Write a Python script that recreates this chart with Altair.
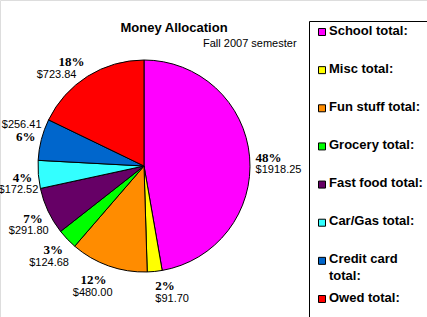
import altair as alt
import pandas as pd

categories = ["School", "Misc", "Fun stuff", "Grocery", "Fast food", "Car/Gas", "Credit card", "Owed"]
amounts = [1918.25, 91.70, 480.00, 124.68, 291.80, 172.52, 256.41, 723.84]
percent_labels = ["48%", "2%", "12%", "3%", "7%", "4%", "6%", "18%"]
legend_labels = ["School total:", "Misc total:", "Fun stuff total:", "Grocery total:",
                 "Fast food total:", "Car/Gas total:", "Credit card\ntotal:", "Owed total:"]
colors = ["#FF00FF", "#FFFF00", "#FF8C00", "#00FF00", "#660066", "#33FFFF", "#0066CC", "#FF0000"]

df = pd.DataFrame({
    "cat": categories,
    "value": amounts,
    "pct": percent_labels,
    "leg": legend_labels,
    "idx": list(range(len(categories))),
})

CX, CY = 144, 166
color_scale = alt.Scale(domain=categories, range=colors)

base = alt.Chart(df).transform_calculate(
    val="'$' + format(datum.value, '.2f')"
).transform_joinaggregate(
    total="sum(value)"
).transform_window(
    cum="sum(value)", sort=[alt.SortField("idx")], frame=[None, 0]
).transform_calculate(
    mid="(datum.cum - datum.value / 2) / datum.total"
)

theta = alt.Theta("value:Q", stack=True)
order = alt.Order("idx:Q")

pie = base.mark_arc(outerRadius=106, stroke="black", strokeWidth=1).encode(
    theta=theta, order=order,
    color=alt.Color("cat:N", scale=color_scale, legend=None),
    x=alt.value(CX), y=alt.value(CY),
)

SIN = "sin(2*PI*datum.mid)"
COS = "cos(2*PI*datum.mid)"
ALIGN = f"{SIN} > 0 ? 'left' : 'right'"
FIRST = f"({COS} > 0.15 ? -13.5 + 8*({COS} - 0.25) : 2 - 7*{COS})"

def label_layer(field, font, weight, size, second_cond, dx_expr):
    dy = f"{FIRST} + (({second_cond}) ? 12.5 : 0)"
    return base.mark_text(
        radius=112, font=font, fontWeight=weight, fontSize=size,
        align={"expr": ALIGN}, dy={"expr": dy}, dx={"expr": dx_expr},
        baseline="middle", color="black"
    ).encode(
        theta=theta, order=order, detail="cat:N",
        text=f"{field}:N", x=alt.value(CX), y=alt.value(CY),
    )

pct_layer = label_layer("pct", "Liberation Serif", "bold", 13,
                        "datum.cat == 'Credit card'", "0")
val_layer = label_layer("val", "Liberation Sans", "normal", 11,
                        "datum.cat != 'Credit card'",
                        f"{SIN} > 0 ? 0 : ({COS} > 0.5 ? -8 : 6)")

leg_y = alt.Y("cat:N", sort=categories, axis=None,
              scale=alt.Scale(type="point", range=[32, 299], padding=0))

leg_sq = alt.Chart(df).mark_square(size=49, stroke="black", strokeWidth=1, opacity=1).encode(
    x=alt.value(322), y=leg_y,
    color=alt.Color("cat:N", scale=color_scale, legend=None),
)
leg_txt = alt.Chart(df).mark_text(
    align="left", baseline="top", dy=-7.5, lineBreak="\n", lineHeight=17,
    font="Liberation Sans", fontWeight="bold", fontSize=13, color="black"
).encode(x=alt.value(329), y=leg_y, text="leg:N")

one = pd.DataFrame({"a": [0]})
box = alt.Chart(one).mark_rect(fill=None, stroke="black", strokeWidth=1).encode(
    x=alt.value(309.5), x2=alt.value(440), y=alt.value(21.5), y2=alt.value(340)
)
title = alt.Chart(one).mark_text(
    text="Money Allocation", font="Liberation Sans", fontWeight="bold", fontSize=13,
    align="center", baseline="middle", color="black"
).encode(x=alt.value(174), y=alt.value(28))
subtitle = alt.Chart(one).mark_text(
    text="Fall 2007 semester", font="Liberation Sans", fontSize=11,
    align="left", baseline="middle", color="black"
).encode(x=alt.value(203), y=alt.value(44))

chart = alt.layer(
    pie, pct_layer, val_layer, leg_sq, leg_txt, box, title, subtitle
).properties(
    width=427, height=317, autosize=alt.AutoSizeParams(type="none"), padding=0
).configure_view(stroke=None).configure(background="white")

chart.save("out.html", embed_options={"renderer": "svg", "actions": False})
